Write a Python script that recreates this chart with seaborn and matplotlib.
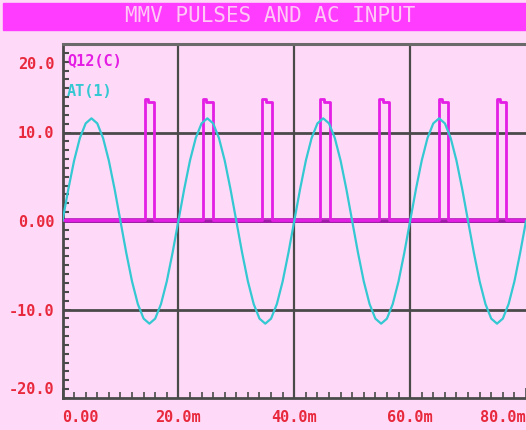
import matplotlib
matplotlib.use("Agg")
import matplotlib.pyplot as plt
import matplotlib.transforms as mtransforms
from matplotlib.ticker import MultipleLocator
import seaborn as sns
import pandas as pd

# AC input sampled every 1 ms (time in ms, volts)
ac_time = list(range(0, 81))
ac_volts = [
    0.0, 3.58, 6.82, 9.38, 11.03, 11.6, 11.03, 9.38, 6.82, 3.58,
    0.0, -3.58, -6.82, -9.38, -11.03, -11.6, -11.03, -9.38, -6.82, -3.58,
    0.0, 3.58, 6.82, 9.38, 11.03, 11.6, 11.03, 9.38, 6.82, 3.58,
    0.0, -3.58, -6.82, -9.38, -11.03, -11.6, -11.03, -9.38, -6.82, -3.58,
    0.0, 3.58, 6.82, 9.38, 11.03, 11.6, 11.03, 9.38, 6.82, 3.58,
    0.0, -3.58, -6.82, -9.38, -11.03, -11.6, -11.03, -9.38, -6.82, -3.58,
    0.0, 3.58, 6.82, 9.38, 11.03, 11.6, 11.03, 9.38, 6.82, 3.58,
    0.0, -3.58, -6.82, -9.38, -11.03, -11.6, -11.03, -9.38, -6.82, -3.58,
    0.0,
]

# Monostable output pulses at Q12 collector (ms, volts)
pulse_start = [14.2, 24.3, 34.5, 44.5, 54.7, 64.9, 75.0]
pulse_end = [15.8, 25.9, 36.1, 46.1, 56.3, 66.5, 76.6]
pulse_step = [14.75, 24.85, 35.05, 45.05, 55.25, 65.45, 75.55]
pulse_low = 0.15
pulse_high = 13.8
pulse_high_tail = 13.4

x_ticks = [0, 20, 40, 60, 80]
x_labels = ["0.00", "20.0m", "40.0m", "60.0m", "80.0m"]
y_ticks = [-20, -10, 0, 10, 20]
y_labels = ["-20.0", "-10.0", "0.00", "10.0", "20.0"]

BG = "#ffdaf8"
MAGENTA = "#e41ee4"
CYAN = "#34c8d2"
GRID = "#4a4a4a"
LABEL_RED = "#e8283c"
TITLE_BAR = "#ff3cff"
TITLE_TEXT = "#ffc8f5"
MONO = ["DejaVu Sans Mono"]

# Build the pulse outline as a polyline
pt, pv = [0.0], [pulse_low]
for s, m, e in zip(pulse_start, pulse_step, pulse_end):
    pt += [s, s, m, m, e, e]
    pv += [pulse_low, pulse_high, pulse_high, pulse_high_tail, pulse_high_tail, pulse_low]
pt.append(80.0)
pv.append(pulse_low)

ac_df = pd.DataFrame({"t": ac_time, "v": ac_volts})
pulse_df = pd.DataFrame({"t": pt, "v": pv})

sns.set_theme(style="white")
plt.rcParams["font.family"] = MONO

fig = plt.figure(figsize=(5.26, 4.30), dpi=100, facecolor=BG)
ax = fig.add_axes([62.5 / 526, 32 / 430, (526 - 62.5) / 526, (398 - 44) / 430])
ax.set_facecolor(BG)

# Title bar
fig.patches.append(plt.Rectangle((3 / 526, 1 - 30 / 430), 1, 27 / 430,
                                 transform=fig.transFigure, color=TITLE_BAR, zorder=0))
fig.text(270 / 526, 1 - 16.5 / 430, "MMV PULSES AND AC INPUT", ha="center", va="center",
         color=TITLE_TEXT, fontsize=15, family=MONO)

ax.grid(False)
for yv in [-10, 0, 10]:
    ax.axhline(yv, color=GRID, lw=2.0, zorder=1)
for xv in [20, 40, 60]:
    ax.axvline(xv, color=GRID, lw=1.6, zorder=1)

sns.lineplot(data=pulse_df, x="t", y="v", ax=ax, color=MAGENTA, lw=2.0,
             sort=False, estimator=None, zorder=3)
sns.lineplot(data=pulse_df.iloc[[0, -1]], x="t", y="v", ax=ax, color="#b010b8",
             lw=3.5, sort=False, estimator=None, zorder=2, alpha=0.85)
sns.lineplot(data=ac_df, x="t", y="v", ax=ax, color=CYAN, lw=1.6,
             sort=False, estimator=None, zorder=4)

ax.set_xlim(0, 80)
ax.set_ylim(-20, 20)
ax.set_xlabel("")
ax.set_ylabel("")

ax.set_xticks(x_ticks)
ax.set_xticklabels(x_labels)
ax.set_yticks(y_ticks)
ax.set_yticklabels(y_labels)
ax.xaxis.set_minor_locator(MultipleLocator(2))
ax.yaxis.set_minor_locator(MultipleLocator(1))
ax.tick_params(axis="both", which="both", direction="in", colors=GRID,
               labelcolor=LABEL_RED, labelsize=11)
ax.tick_params(axis="x", which="major", length=7, width=1.2, pad=9, bottom=True)
ax.tick_params(axis="x", which="minor", length=4, width=1.2, bottom=True)
ax.tick_params(axis="y", which="major", length=6, width=1.2, pad=6, left=True)
ax.tick_params(axis="y", which="minor", length=4, width=1.5, left=True)
for lab in ax.get_xticklabels() + ax.get_yticklabels():
    lab.set_fontweight("bold")

# Edge labels sit inside the frame
xl = ax.get_xticklabels()
xl[0].set_ha("left")
xl[-1].set_ha("right")
yl = ax.get_yticklabels()
yl[-1].set_transform(yl[-1].get_transform() +
                     mtransforms.ScaledTranslation(0, -19 / 100, fig.dpi_scale_trans))
yl[0].set_transform(yl[0].get_transform() +
                    mtransforms.ScaledTranslation(0, 10 / 100, fig.dpi_scale_trans))

for side in ["left", "bottom"]:
    ax.spines[side].set_color(GRID)
    ax.spines[side].set_linewidth(2.0)
ax.spines["top"].set_color("#6a6a6a")
ax.spines["top"].set_linewidth(2.2)
ax.spines["right"].set_visible(False)

# Trace names
ax.text(0.8, 18.0, "Q12(C)", color=MAGENTA, fontsize=11, fontweight="bold",
        va="center", ha="left", family=MONO)
ax.text(0.8, 14.6, "AT(1)", color=CYAN, fontsize=11, fontweight="bold",
        va="center", ha="left", family=MONO)

fig.savefig("out.png", dpi=100, facecolor=BG)
